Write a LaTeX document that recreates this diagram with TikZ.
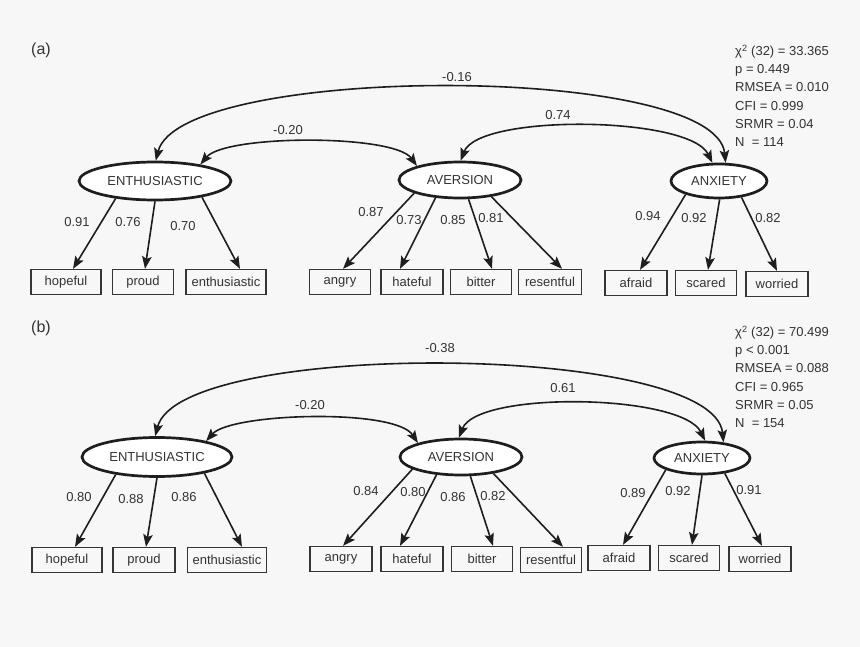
\documentclass[tikz,border=0pt]{standalone}
\usepackage{fontspec}
\setmainfont{Liberation Sans}
\usetikzlibrary{shapes.geometric,arrows.meta}
\definecolor{ink}{HTML}{333333}
\definecolor{lineink}{HTML}{1E1E1E}
\definecolor{bg}{HTML}{F7F7F7}
\begin{document}
\begin{tikzpicture}[x=1pt,y=-1pt,
  font=\fontsize{13}{15}\selectfont,
  tip/.tip={Stealth[length=12.5pt,width=9.5pt,inset=2.5pt]},
  lat/.style={ellipse,draw=lineink,line width=2.7pt,fill=white,inner sep=0pt,text=ink},
  obs/.style={draw=lineink!90,line width=1.3pt,minimum height=25pt,inner sep=0pt,text=ink,fill=bg},
  load/.style={-tip,line width=1.6pt,draw=lineink},
  cov/.style={tip-tip,line width=1.6pt,draw=lineink},
  lab/.style={text=ink,inner sep=0pt},
  statline/.style={anchor=base west,inner sep=0pt,text=ink},
  panel/.style={text=ink,inner sep=0pt,font=\fontsize{16}{18}\selectfont}
]
\fill[bg] (0,0) rectangle (860,647);
\useasboundingbox (0,0) rectangle (860,647);

% ---------------- panel (a) ----------------
\node[panel] (pa) at (41,50) {(a)};
\node[lat,minimum width=152pt,minimum height=38pt] (E1) at (155,181) {ENTHUSIASTIC};
\node[lat,minimum width=122pt,minimum height=36pt] (A1) at (460,180) {AVERSION};
\node[lat,minimum width=96pt,minimum height=34pt] (X1) at (719,181) {ANXIETY};

\node[obs,minimum width=70pt] (hop1) at (66,282) {hopeful};
\node[obs,minimum width=61pt] (pro1) at (143,282) {proud};
\node[obs,minimum width=80pt] (ent1) at (226,282) {enthusiastic};
\node[obs,minimum width=61pt] (ang1) at (340,282) {angry};
\node[obs,minimum width=62pt] (hat1) at (412,282) {hateful};
\node[obs,minimum width=61pt] (bit1) at (481,282) {bitter};
\node[obs,minimum width=63pt] (res1) at (550,282) {resentful};
\node[obs,minimum width=62pt] (afr1) at (636,283) {afraid};
\node[obs,minimum width=61pt] (sca1) at (706,283) {scared};
\node[obs,minimum width=62pt] (wor1) at (777,284) {worried};

\draw[load] (E1.204) -- ([xshift=7pt]hop1.north);
\draw[load] (E1.270) -- ([xshift=2pt]pro1.north);
\draw[load] (E1.341) -- ([xshift=14pt]ent1.north);
\draw[load] (A1.196) -- ([xshift=3pt]ang1.north);
\draw[load] (A1.216) -- ([xshift=-12pt]hat1.north);
\draw[load] (A1.294) -- ([xshift=11pt]bit1.north);
\draw[load] (A1.332) -- ([xshift=12pt]res1.north);
\draw[load] (X1.202) -- ([xshift=4pt]afr1.north);
\draw[load] (X1.272) -- ([xshift=2pt]sca1.north);
\draw[load] (X1.324) -- (wor1.north);

\node[lab] (l11) at (77,222) {0.91};
\node[lab] (l12) at (128,222) {0.76};
\node[lab] (l13) at (183,226) {0.70};
\node[lab] (l14) at (371,212) {0.87};
\node[lab] (l15) at (409,220) {0.73};
\node[lab] (l16) at (453,220) {0.85};
\node[lab] (l17) at (491,218) {0.81};
\node[lab] (l18) at (648,216) {0.94};
\node[lab] (l19) at (694,218) {0.92};
\node[lab] (l1a) at (768,218) {0.82};

\draw[cov] (E1.88) .. controls +(25,-97) and +(-10,-100) .. (X1.70);
\draw[cov] (E1.20) .. controls +(25,-30) and +(-23,-32) .. (A1.162);
\draw[cov] (A1.88) .. controls +(18,-47) and +(-23,-47) .. (X1.110);
\node[lab] (c11) at (457,77) {-0.16};
\node[lab] (c12) at (288,130) {-0.20};
\node[lab] (c13) at (558,115) {0.74};

\node[statline] (s11) at (735,55.5) {χ\textsuperscript{2} (32) = 33.365};
\node[statline] (s12) at (735,73.7) {p = 0.449};
\node[statline] (s13) at (735,91.9) {RMSEA = 0.010};
\node[statline] (s14) at (735,110.1) {CFI = 0.999};
\node[statline] (s15) at (735,128.3) {SRMR = 0.04};
\node[statline] (s16) at (735,146.5) {N\ \ = 114};

% ---------------- panel (b) ----------------
\node[panel] (pb) at (41,328) {(b)};
\node[lat,minimum width=150pt,minimum height=39pt] (E2) at (157,457) {ENTHUSIASTIC};
\node[lat,minimum width=122pt,minimum height=36pt] (A2) at (461,457) {AVERSION};
\node[lat,minimum width=96pt,minimum height=32pt] (X2) at (702,458) {ANXIETY};

\node[obs,minimum width=70pt] (hop2) at (67,560) {hopeful};
\node[obs,minimum width=62pt] (pro2) at (144,560) {proud};
\node[obs,minimum width=79pt] (ent2) at (227,560) {enthusiastic};
\node[obs,minimum width=62pt] (ang2) at (341,559) {angry};
\node[obs,minimum width=62pt] (hat2) at (412,559) {hateful};
\node[obs,minimum width=61pt] (bit2) at (482,559) {bitter};
\node[obs,minimum width=61pt] (res2) at (551,560) {resentful};
\node[obs,minimum width=62pt] (afr2) at (619,558) {afraid};
\node[obs,minimum width=61pt] (sca2) at (689,558) {scared};
\node[obs,minimum width=62pt] (wor2) at (760,559) {worried};

\draw[load] (E2.203) -- ([xshift=8pt]hop2.north);
\draw[load] (E2.270) -- ([xshift=2pt]pro2.north);
\draw[load] (E2.341) -- ([xshift=15pt]ent2.north);
\draw[load] (A2.194) -- ([xshift=2pt]ang2.north);
\draw[load] (A2.216) -- ([xshift=-12pt]hat2.north);
\draw[load] (A2.296) -- ([xshift=11pt]bit2.north);
\draw[load] (A2.333) -- ([xshift=12pt]res2.north);
\draw[load] (X2.198) -- ([xshift=4pt]afr2.north);
\draw[load] (X2.270) -- ([xshift=3pt]sca2.north);
\draw[load] (X2.326) -- ([xshift=2pt]wor2.north);

\node[lab] (l21) at (79,497) {0.80};
\node[lab] (l22) at (131,499) {0.88};
\node[lab] (l23) at (184,497) {0.86};
\node[lab] (l24) at (366,491) {0.84};
\node[lab] (l25) at (413,492) {0.80};
\node[lab] (l26) at (453,497) {0.86};
\node[lab] (l27) at (493,496) {0.82};
\node[lab] (l28) at (633,493) {0.89};
\node[lab] (l29) at (678,491) {0.92};
\node[lab] (l2a) at (749,490) {0.91};

\draw[cov] (E2.95) .. controls +(25,-97) and +(-10,-100) .. (X2.36);
\draw[cov] (E2.18) .. controls +(25,-28) and +(-23,-35) .. (A2.162);
\draw[cov] (A2.96) .. controls +(18,-47) and +(-23,-47) .. (X2.80);
\node[lab] (c21) at (440,348) {-0.38};
\node[lab] (c22) at (310,405) {-0.20};
\node[lab] (c23) at (563,388) {0.61};

\node[statline] (s21) at (735,336.5) {χ\textsuperscript{2} (32) = 70.499};
\node[statline] (s22) at (735,354.7) {p < 0.001};
\node[statline] (s23) at (735,372.9) {RMSEA = 0.088};
\node[statline] (s24) at (735,391.1) {CFI = 0.965};
\node[statline] (s25) at (735,409.3) {SRMR = 0.05};
\node[statline] (s26) at (735,427.5) {N\ \ = 154};
\end{tikzpicture}
\end{document}
